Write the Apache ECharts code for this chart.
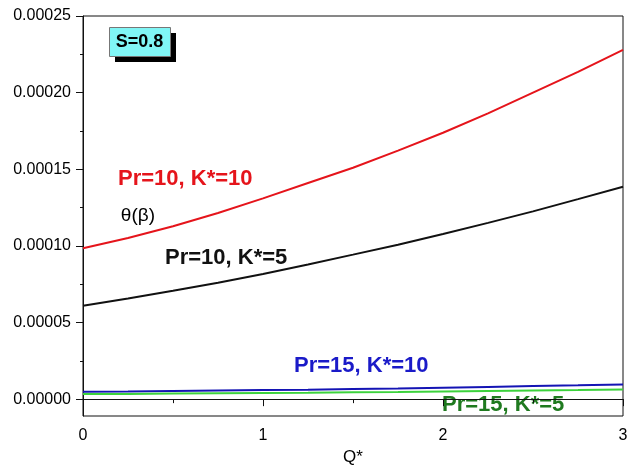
<!DOCTYPE html>
<html>
<head>
<meta charset="utf-8">
<script src="https://cdn.jsdelivr.net/npm/echarts@6/dist/echarts.min.js"></script>
<style>
  html, body { margin: 0; padding: 0; background: #fff; }
  #chart { width: 634px; height: 465px; }
</style>
</head>
<body>
<div id="chart"></div>
<script>
// Q* sample points
var qValues = [0, 0.25, 0.5, 0.75, 1.0, 1.25, 1.5, 1.75, 2.0, 2.25, 2.5, 2.75, 3.0];

// theta(beta) for each (Pr, K*) case
var pr10k10 = [0.0000984, 0.0001052, 0.0001128, 0.0001215, 0.0001310, 0.0001410, 0.0001510,
               0.0001622, 0.0001738, 0.0001865, 0.0002000, 0.0002135, 0.0002279];
var pr10k5  = [0.0000609, 0.0000657, 0.0000707, 0.0000760, 0.0000817, 0.0000879, 0.0000943,
               0.0001008, 0.0001078, 0.0001150, 0.0001225, 0.0001305, 0.0001386];
var pr15k10 = [0.0000048, 0.0000050, 0.0000053, 0.0000056, 0.0000059, 0.0000062, 0.0000066,
               0.0000070, 0.0000075, 0.0000080, 0.0000085, 0.0000090, 0.0000096];
var pr15k5  = [0.0000033, 0.0000034, 0.0000036, 0.0000038, 0.0000040, 0.0000042, 0.0000045,
               0.0000047, 0.0000050, 0.0000053, 0.0000056, 0.0000059, 0.0000063];

// axis tick positions
var yMajorTicks = [0, 0.00005, 0.0001, 0.00015, 0.0002, 0.00025];
var yMinorTicks = [0.000025, 0.000075, 0.000125, 0.000175, 0.000225];

var FONT = '"Liberation Sans", Arial, sans-serif';

function pairs(ys) {
  return qValues.map(function (q, i) { return [q, ys[i]]; });
}

var chart = echarts.init(document.getElementById('chart'), null, { renderer: 'canvas' });

var yMin = -0.000011, yMax = 0.00025;

chart.setOption({
  animation: false,
  backgroundColor: '#ffffff',
  grid: {
    left: 83, right: 11, top: 16, bottom: 49,
    containLabel: false,
    outerBoundsMode: 'none',
    show: true, borderColor: '#111', borderWidth: 1, backgroundColor: 'transparent'
  },
  xAxis: {
    type: 'value',
    min: 0, max: 3, interval: 1,
    name: 'Q*',
    nameLocation: 'middle',
    nameGap: 31,
    nameTextStyle: { fontFamily: FONT, fontSize: 17, color: '#000' },
    axisLine: { show: true, lineStyle: { color: '#111', width: 1 } },
    axisTick: { show: true, length: 7, lineStyle: { color: '#111' } },
    minorTick: { show: true, splitNumber: 2, length: 4, lineStyle: { color: '#111' } },
    axisLabel: { fontFamily: FONT, fontSize: 16, color: '#000', margin: 12 },
    splitLine: { show: false }
  },
  yAxis: [{
    type: 'value',
    min: yMin, max: yMax,
    name: 'θ(β)',
    nameLocation: 'middle',
    nameRotate: 0,
    nameGap: -72,
    nameTextStyle: { fontFamily: FONT, fontSize: 19, color: '#000' },
    axisLine: { show: true, lineStyle: { color: '#111', width: 1 } },
    axisTick: { show: true, length: 7, customValues: yMajorTicks, lineStyle: { color: '#111' } },
    axisLabel: {
      fontFamily: FONT, fontSize: 16, color: '#000', margin: 12,
      customValues: yMajorTicks,
      formatter: function (v) { return v.toFixed(5); }
    },
    splitLine: { show: false }
  }, {
    type: 'value',
    position: 'left',
    min: yMin, max: yMax,
    axisLine: { show: false },
    axisTick: { show: true, length: 3, customValues: yMinorTicks, lineStyle: { color: '#111' } },
    axisLabel: { show: false },
    splitLine: { show: false }
  }],
  series: [
    { name: 'Pr=10, K*=10', type: 'line', data: pairs(pr10k10), showSymbol: false,
      lineStyle: { color: '#e5141b', width: 2 }, itemStyle: { color: '#e5141b' } },
    { name: 'Pr=10, K*=5', type: 'line', data: pairs(pr10k5), showSymbol: false,
      lineStyle: { color: '#111111', width: 2 }, itemStyle: { color: '#111111' } },
    { name: 'Pr=15, K*=10', type: 'line', data: pairs(pr15k10), showSymbol: false,
      lineStyle: { color: '#1414b4', width: 2 }, itemStyle: { color: '#1414b4' } },
    { name: 'Pr=15, K*=5', type: 'line', data: pairs(pr15k5), showSymbol: false,
      lineStyle: { color: '#3cd23c', width: 2 }, itemStyle: { color: '#3cd23c' } }
  ],
  graphic: [
    // S=0.8 tag with a solid drop shadow
    { type: 'rect', left: 115, top: 33, shape: { width: 61, height: 29 }, style: { fill: '#000' } },
    { type: 'rect', left: 109, top: 27, shape: { width: 61, height: 29 },
      style: { fill: '#80f6f6', stroke: '#777', lineWidth: 1 } },
    { type: 'text', x: 139.5, y: 42, style: { text: 'S=0.8', fill: '#000', font: 'bold 18px ' + FONT,
      align: 'center', verticalAlign: 'middle' } },
    // curve captions
    { type: 'text', left: 118, top: 168, style: { text: 'Pr=10, K*=10', fill: '#e5141b', font: 'bold 22px ' + FONT } },
    { type: 'text', left: 165, top: 247, style: { text: 'Pr=10, K*=5', fill: '#111111', font: 'bold 22px ' + FONT } },
    { type: 'text', left: 294, top: 355, style: { text: 'Pr=15, K*=10', fill: '#1a1ac8', font: 'bold 22px ' + FONT } },
    { type: 'text', left: 442, top: 394, style: { text: 'Pr=15, K*=5', fill: '#1f7a1f', font: 'bold 22px ' + FONT } }
  ]
});
</script>
</body>
</html>
